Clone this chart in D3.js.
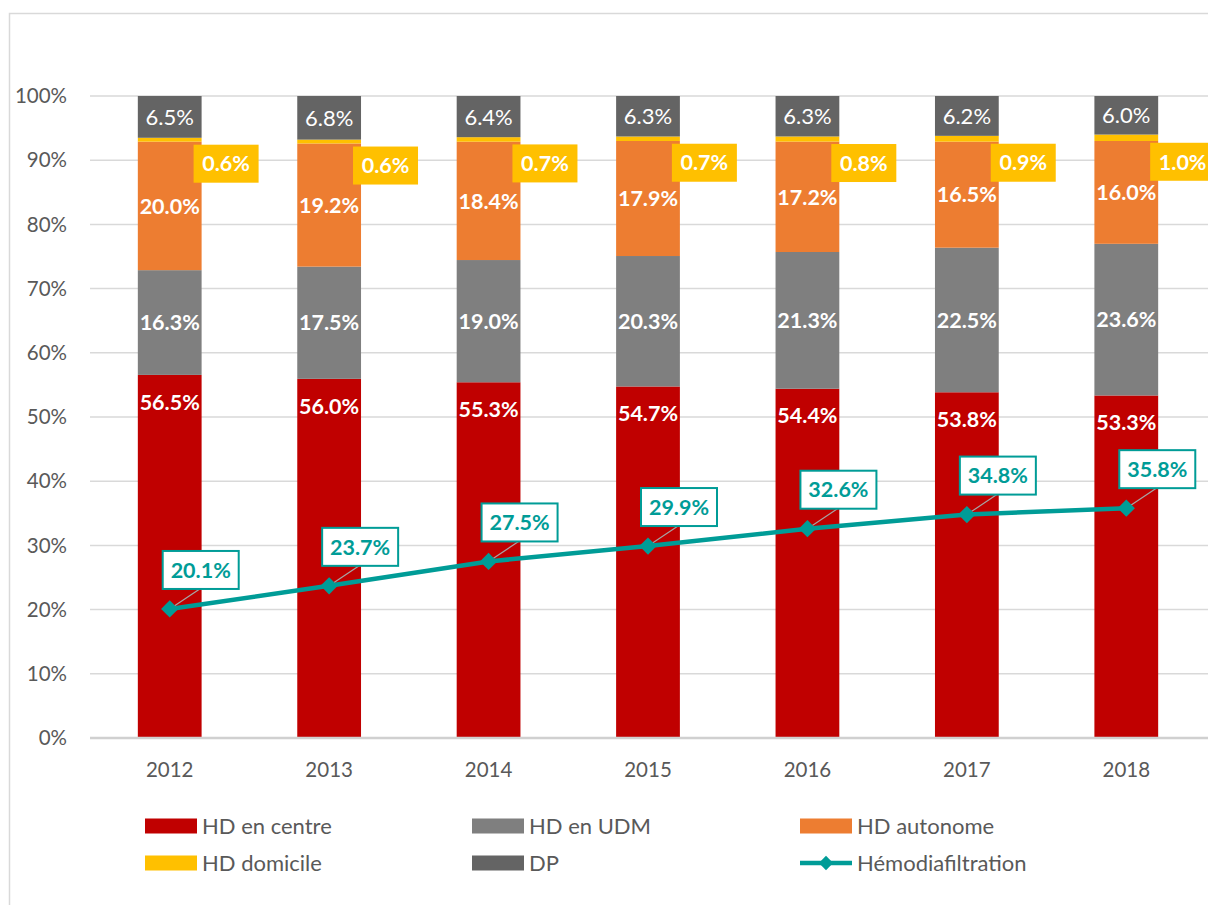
<!DOCTYPE html>
<html>
<head>
<meta charset="utf-8">
<script src="https://cdn.jsdelivr.net/npm/d3@7"></script>
<style>
  body { margin: 0; background: #fff; }
  text { font-family: Lato, "Open Sans", sans-serif; }
</style>
</head>
<body>
<div id="chart"></div>
<script>
(() => {
  /* ---------- data ---------- */
  const YEARS = ["2012","2013","2014","2015","2016","2017","2018"];
  const HD_CENTRE   = [56.5, 56.0, 55.3, 54.7, 54.4, 53.8, 53.3];
  const HD_UDM      = [16.3, 17.5, 19.0, 20.3, 21.3, 22.5, 23.6];
  const HD_AUTONOME = [20.0, 19.2, 18.4, 17.9, 17.2, 16.5, 16.0];
  const HD_DOMICILE = [0.6, 0.6, 0.7, 0.7, 0.8, 0.9, 1.0];
  const DP          = [6.5, 6.8, 6.4, 6.3, 6.3, 6.2, 6.0];
  const HDF         = [20.1, 23.7, 27.5, 29.9, 32.6, 34.8, 35.8];
  const Y_TICKS = [0, 0.1, 0.2, 0.3, 0.4, 0.5, 0.6, 0.7, 0.8, 0.9, 1];

  const SERIES = [
    {key:"centre",   label:"HD en centre",  vals:HD_CENTRE,   color:"#C00000"},
    {key:"udm",      label:"HD en UDM",     vals:HD_UDM,      color:"#7F7F7F"},
    {key:"autonome", label:"HD autonome",   vals:HD_AUTONOME, color:"#ED7D31"},
    {key:"domicile", label:"HD domicile",   vals:HD_DOMICILE, color:"#FFC000"},
    {key:"dp",       label:"DP",            vals:DP,          color:"#646464"}
  ];
  const TEAL = "#009C97";

  const W = 1208, H = 905;
  const X0 = 90, X1 = 1206, Y0 = 738, Y1 = 96;

  const rows = YEARS.map((y,i) => {
    const r = {year:y};
    SERIES.forEach(s => r[s.key] = s.vals[i]);
    return r;
  });

  const svg = d3.select("#chart").append("svg")
    .attr("width", W).attr("height", H);

  // outer frame
  svg.append("rect")
    .attr("x", 9.5).attr("y", 13.5).attr("width", 1220).attr("height", 920)
    .attr("fill", "none").attr("stroke", "#D9D9D9").attr("stroke-width", 1.5);

  const x = d3.scaleBand().domain(YEARS).range([X0, X1]).paddingInner(0.6).paddingOuter(0.3);
  const y = d3.scaleLinear().domain([0, 1]).range([Y0, Y1]);

  /* grid */
  svg.append("g").selectAll("line").data(Y_TICKS.slice(1)).join("line")
    .attr("x1", X0).attr("x2", W).attr("y1", d => y(d)).attr("y2", d => y(d))
    .attr("stroke", "#D9D9D9").attr("stroke-width", 1.5);

  /* y tick labels */
  svg.append("g").selectAll("text").data(Y_TICKS).join("text")
    .attr("x", 67).attr("y", d => y(d)).attr("dy", "0.35em")
    .attr("text-anchor", "end")
    .attr("fill", "#595959").style("font-size", "20.5px")
    .text(d3.format(".0%"));

  /* stacked bars */
  const stack = d3.stack().keys(SERIES.map(s => s.key)).offset(d3.stackOffsetExpand);
  const layers = stack(rows);

  const gl = svg.append("g").selectAll("g").data(layers).join("g")
    .attr("fill", (d,i) => SERIES[i].color);
  gl.selectAll("rect").data(d => d).join("rect")
    .attr("x", d => x(d.data.year))
    .attr("width", x.bandwidth())
    .attr("y", d => y(d[1]))
    .attr("height", d => y(d[0]) - y(d[1]));

  /* baseline */
  svg.append("line")
    .attr("x1", X0).attr("x2", W).attr("y1", Y0).attr("y2", Y0)
    .attr("stroke", "#D0D0D0").attr("stroke-width", 2.5);

  /* segment labels */
  const fmt = v => v.toFixed(1) + "%";
  layers.forEach((layer, li) => {
    const s = SERIES[li];
    const g = svg.append("g");
    layer.forEach(d => {
      const cx = x(d.data.year) + x.bandwidth() / 2;
      const v = d.data[s.key];
      if (s.key === "domicile") {
        const cy = (y(d[0]) + y(d[1])) / 2 + 24;
        const bx = x(d.data.year) + x.bandwidth() - 8;
        g.append("rect").attr("x", bx).attr("y", cy - 19).attr("width", 65).attr("height", 38)
          .attr("fill", "#FFC000");
        g.append("text").attr("x", bx + 32.5).attr("y", cy).attr("dy", "0.36em")
          .attr("text-anchor", "middle").attr("fill", "#fff")
          .style("font-size", "21.5px").style("font-weight", "bold")
          .text(fmt(v));
        return;
      }
      const cy = s.key === "centre" ? y(d[1]) + 27 : (y(d[0]) + y(d[1])) / 2;
      g.append("text").attr("x", cx).attr("y", cy).attr("dy", "0.36em")
        .attr("text-anchor", "middle").attr("fill", "#fff")
        .style("font-size", s.key === "dp" ? "22px" : "21.5px")
        .style("font-weight", s.key === "dp" ? "normal" : "bold")
        .text(fmt(v));
    });
  });

  /* Hémodiafiltration line */
  const cxOf = i => x(YEARS[i]) + x.bandwidth() / 2;
  const line = d3.line().x((d,i) => cxOf(i)).y(d => y(d / 100));
  svg.append("path").datum(HDF)
    .attr("d", line).attr("fill", "none")
    .attr("stroke", TEAL).attr("stroke-width", 4.5).attr("stroke-linejoin", "round");

  const sym = d3.symbol().type(d3.symbolDiamond2).size(190);
  const gp = svg.append("g");
  HDF.forEach((v, i) => {
    const px = cxOf(i), py = y(v / 100);
    gp.append("line").attr("x1", px).attr("y1", py).attr("x2", px + 30).attr("y2", py - 20)
      .attr("stroke", "#A6A6A6").attr("stroke-width", 1.2);
    gp.append("path").attr("d", sym).attr("transform", `translate(${px},${py})`).attr("fill", TEAL);
    const bx = px + 31, by = py - 39;
    gp.append("rect").attr("x", bx - 38).attr("y", by - 19).attr("width", 76).attr("height", 38)
      .attr("fill", "#fff").attr("stroke", TEAL).attr("stroke-width", 2);
    gp.append("text").attr("x", bx).attr("y", by).attr("dy", "0.36em")
      .attr("text-anchor", "middle").attr("fill", TEAL)
      .style("font-size", "21.5px").style("font-weight", "bold")
      .text(fmt(v));
  });

  /* x labels */
  svg.append("g").selectAll("text").data(YEARS).join("text")
    .attr("x", d => x(d) + x.bandwidth() / 2).attr("y", 770).attr("dy", "0.35em")
    .attr("text-anchor", "middle").attr("fill", "#595959").style("font-size", "20.5px")
    .text(d => d);

  /* legend */
  const LEG = [
    {label:"HD en centre", color:"#C00000", col:0, row:0},
    {label:"HD en UDM", color:"#7F7F7F", col:1, row:0},
    {label:"HD autonome", color:"#ED7D31", col:2, row:0},
    {label:"HD domicile", color:"#FFC000", col:0, row:1},
    {label:"DP", color:"#646464", col:1, row:1},
    {label:"Hémodiafiltration", color:TEAL, col:2, row:1, line:true}
  ];
  const colX = [145, 472, 800], rowY = [826, 863];
  const lg = svg.append("g");
  LEG.forEach(d => {
    const lx = colX[d.col], ly = rowY[d.row];
    if (d.line) {
      lg.append("line").attr("x1", lx).attr("x2", lx + 52).attr("y1", ly).attr("y2", ly)
        .attr("stroke", d.color).attr("stroke-width", 4.5);
      lg.append("path").attr("d", d3.symbol().type(d3.symbolDiamond2).size(130))
        .attr("transform", `translate(${lx + 26},${ly})`).attr("fill", d.color);
    } else {
      lg.append("rect").attr("x", lx).attr("y", ly - 7.5).attr("width", 52).attr("height", 15)
        .attr("fill", d.color);
    }
    lg.append("text").attr("x", lx + 57).attr("y", ly).attr("dy", "0.35em")
      .attr("fill", "#595959").style("font-size", "22px").text(d.label);
  });
})();
</script>
</body>
</html>
